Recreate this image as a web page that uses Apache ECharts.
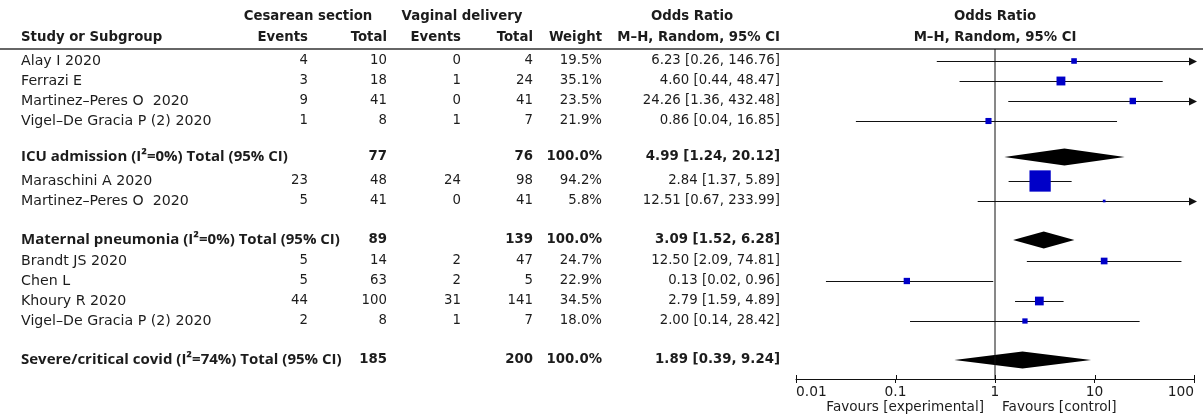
<!DOCTYPE html>
<html>
<head>
<meta charset="utf-8">
<script src="https://cdn.jsdelivr.net/npm/echarts@6/dist/echarts.min.js"></script>
<style>
  html, body { margin: 0; padding: 0; background: #fff; }
  #chart { width: 1203px; height: 418px; }
</style>
</head>
<body>
<div id="chart"></div>
<script>
// individual studies
const studies = ['Alay I 2020', 'Ferrazi E', 'Martinez\u2013Peres O  2020', 'Vigel\u2013De Gracia P (2) 2020',
  'Maraschini A 2020', 'Martinez\u2013Peres O  2020',
  'Brandt JS 2020', 'Chen L', 'Khoury R 2020', 'Vigel\u2013De Gracia P (2) 2020']
const studyRows = [0, 1, 2, 3, 6, 7, 10, 11, 12, 13]
const csEvents = [4, 3, 9, 1, 23, 5, 5, 5, 44, 2]
const csTotal = [10, 18, 41, 8, 48, 41, 14, 63, 100, 8]
const vdEvents = [0, 1, 0, 1, 24, 0, 2, 2, 31, 1]
const vdTotal = [4, 24, 41, 7, 98, 41, 47, 5, 141, 7]
const weights = [19.5, 35.1, 23.5, 21.9, 94.2, 5.8, 24.7, 22.9, 34.5, 18.0]
const orValue = [6.23, 4.60, 24.26, 0.86, 2.84, 12.51, 12.50, 0.13, 2.79, 2.00]
const ciLow = [0.26, 0.44, 1.36, 0.04, 1.37, 0.67, 2.09, 0.02, 1.59, 0.14]
const ciHigh = [146.76, 48.47, 432.48, 16.85, 5.89, 233.99, 74.81, 0.96, 4.89, 28.42]

// subgroup totals
const subLabels = ['ICU admission (I\u00b2=0%) Total (95% CI)',
  'Maternal pneumonia (I\u00b2=0%) Total (95% CI)',
  'Severe/critical covid (I\u00b2=74%) Total (95% CI)']
const subRows = [4.8, 8.95, 14.95]
const subCsTotal = [77, 89, 185]
const subVdTotal = [76, 139, 200]
const subWeight = [100.0, 100.0, 100.0]
const subOr = [4.99, 3.09, 1.89]
const subLow = [1.24, 1.52, 0.39]
const subHigh = [20.12, 6.28, 9.24]

// axis
const xTicks = [0.01, 0.1, 1, 10, 100]
const X_MIN = 0.01
const X_MAX = 100
const Y_MIN = -0.6
const Y_MAX = 15.9

const FONT = '"DejaVu Sans", sans-serif'
const NAME_FONT = '14.2px ' + FONT
const BODY_FONT = '13.3px ' + FONT
const BOLD_FONT = 'bold 13.3px ' + FONT
const SUB_LABEL_FONT = 'bold 15px "Open Sans", sans-serif'
const TEXT = '#1c1c1c'
const BLUE = '#0000c8'
// right edges of the table columns (name column is left edge)
const COL = { name: 21, csEv: 308, csTot: 387, vdEv: 461, vdTot: 533, weight: 602, ci: 780 }

const chart = echarts.init(document.getElementById('chart'))

function f2 (v) { return v.toFixed(2) }
function ciText (o, l, h) { return f2(o) + ' [' + f2(l) + ', ' + f2(h) + ']' }

function txt (text, x, y, align, font) {
  return {
    type: 'text',
    style: { text: String(text), x: x, y: y, align: align, verticalAlign: 'middle', font: font, fill: TEXT }
  }
}

function renderStudyText (params, api) {
  const i = api.value(2)
  const y = api.coord([1, api.value(1)])[1]
  return {
    type: 'group',
    children: [
      txt(studies[i], COL.name, y, 'left', NAME_FONT),
      txt(csEvents[i], COL.csEv, y, 'right', BODY_FONT),
      txt(csTotal[i], COL.csTot, y, 'right', BODY_FONT),
      txt(vdEvents[i], COL.vdEv, y, 'right', BODY_FONT),
      txt(vdTotal[i], COL.vdTot, y, 'right', BODY_FONT),
      txt(weights[i].toFixed(1) + '%', COL.weight, y, 'right', BODY_FONT),
      txt(ciText(orValue[i], ciLow[i], ciHigh[i]), COL.ci, y, 'right', BODY_FONT)
    ]
  }
}

function renderSubText (params, api) {
  const i = api.value(2)
  const y = api.coord([1, api.value(1)])[1]
  return {
    type: 'group',
    children: [
      txt(subLabels[i], COL.name, y, 'left', SUB_LABEL_FONT),
      txt(subCsTotal[i], COL.csTot, y, 'right', BOLD_FONT),
      txt(subVdTotal[i], COL.vdTot, y, 'right', BOLD_FONT),
      txt(subWeight[i].toFixed(1) + '%', COL.weight, y, 'right', BOLD_FONT),
      txt(ciText(subOr[i], subLow[i], subHigh[i]), COL.ci, y, 'right', BOLD_FONT)
    ]
  }
}

function renderStudyMark (params, api) {
  const i = api.value(2)
  const row = api.value(1)
  const p1 = api.coord([Math.max(ciLow[i], X_MIN), row])
  const p2 = api.coord([Math.min(ciHigh[i], X_MAX), row])
  const pc = api.coord([orValue[i], row])
  const s = 1.5 + 0.21 * weights[i]
  const y = Math.round(p1[1]) + 0.5
  const children = [
    { type: 'line', shape: { x1: p1[0], y1: y, x2: p2[0], y2: y }, style: { stroke: '#111', lineWidth: 1 } },
    { type: 'rect', shape: { x: pc[0] - s / 2, y: pc[1] - s / 2, width: s, height: s }, style: { fill: BLUE } }
  ]
  if (ciHigh[i] > X_MAX) {
    children.push({
      type: 'polygon',
      shape: { points: [[p2[0] + 3, y], [p2[0] - 5, y - 4], [p2[0] - 5, y + 4]] },
      style: { fill: '#111' }
    })
  }
  return { type: 'group', children: children }
}

function renderDiamond (params, api) {
  const i = api.value(2)
  const row = api.value(1)
  const pl = api.coord([subLow[i], row])
  const pr = api.coord([subHigh[i], row])
  const pc = api.coord([subOr[i], row])
  return {
    type: 'polygon',
    shape: { points: [[pl[0], pc[1]], [pc[0], pc[1] - 8.5], [pr[0], pc[1]], [pc[0], pc[1] + 8.5]] },
    style: { fill: '#000' }
  }
}

// upward half of the axis ticks (the axis itself draws the downward half)
function renderUpTick (params, api) {
  const p = api.coord([api.value(0), Y_MAX])
  const x = Math.round(p[0]) + 0.5
  return {
    type: 'line',
    shape: { x1: x, y1: p[1], x2: x, y2: p[1] - 4 },
    style: { stroke: '#111', lineWidth: 1 }
  }
}

const header = [
  txt('Cesarean section', 308, 17, 'center', BOLD_FONT),
  txt('Vaginal delivery', 462, 17, 'center', BOLD_FONT),
  txt('Odds Ratio', 692, 17, 'center', BOLD_FONT),
  txt('Odds Ratio', 995, 17, 'center', BOLD_FONT),
  txt('Study or Subgroup', COL.name, 38, 'left', BOLD_FONT),
  txt('Events', COL.csEv, 38, 'right', BOLD_FONT),
  txt('Total', COL.csTot, 38, 'right', BOLD_FONT),
  txt('Events', COL.vdEv, 38, 'right', BOLD_FONT),
  txt('Total', COL.vdTot, 38, 'right', BOLD_FONT),
  txt('Weight', COL.weight, 38, 'right', BOLD_FONT),
  txt('M\u2013H, Random, 95% CI', COL.ci, 38, 'right', BOLD_FONT),
  txt('M\u2013H, Random, 95% CI', 995, 38, 'center', BOLD_FONT),
  txt('Favours [experimental]', 984, 407, 'right', '13.6px ' + FONT),
  txt('Favours [control]', 1002, 407, 'left', '13.6px ' + FONT),
  { type: 'line', shape: { x1: 0, y1: 49, x2: 1203, y2: 49 }, style: { stroke: '#333', lineWidth: 1.5 } }
]

chart.setOption({
  animation: false,
  grid: { left: 796, right: 9, top: 49, bottom: 39 },
  graphic: header,
  xAxis: {
    type: 'log',
    logBase: 10,
    min: X_MIN,
    max: X_MAX,
    splitLine: { show: false },
    axisLine: { show: true, onZero: false, lineStyle: { color: '#111', width: 1 } },
    axisTick: { show: true, length: 4, customValues: xTicks, lineStyle: { color: '#111', width: 1 } },
    axisLabel: {
      show: true,
      fontFamily: FONT,
      fontSize: 13.8,
      color: TEXT,
      margin: 6,
      alignMinLabel: 'left',
      alignMaxLabel: 'right',
      customValues: xTicks,
      formatter: v => String(+(+v).toPrecision(3))
    }
  },
  yAxis: { type: 'value', inverse: true, min: Y_MIN, max: Y_MAX, show: false },
  series: [
    {
      type: 'line',
      data: [[1, Y_MIN], [1, Y_MAX]],
      symbol: 'none',
      lineStyle: { color: '#111', width: 1 },
      silent: true
    },
    {
      type: 'custom',
      clip: false,
      renderItem: renderUpTick,
      data: xTicks.map(v => [v, Y_MAX]),
      encode: { x: 0, y: 1 },
      silent: true
    },
    {
      type: 'custom',
      clip: false,
      renderItem: renderStudyText,
      data: studies.map((s, i) => [1, studyRows[i], i]),
      encode: { x: 0, y: 1 },
      silent: true
    },
    {
      type: 'custom',
      clip: false,
      renderItem: renderSubText,
      data: subLabels.map((s, i) => [1, subRows[i], i]),
      encode: { x: 0, y: 1 },
      silent: true
    },
    {
      type: 'custom',
      clip: false,
      renderItem: renderStudyMark,
      data: studies.map((s, i) => [orValue[i], studyRows[i], i]),
      encode: { x: 0, y: 1 },
      silent: true
    },
    {
      type: 'custom',
      clip: false,
      renderItem: renderDiamond,
      data: subLabels.map((s, i) => [subOr[i], subRows[i], i]),
      encode: { x: 0, y: 1 },
      silent: true
    }
  ]
})
</script>
</body>
</html>
